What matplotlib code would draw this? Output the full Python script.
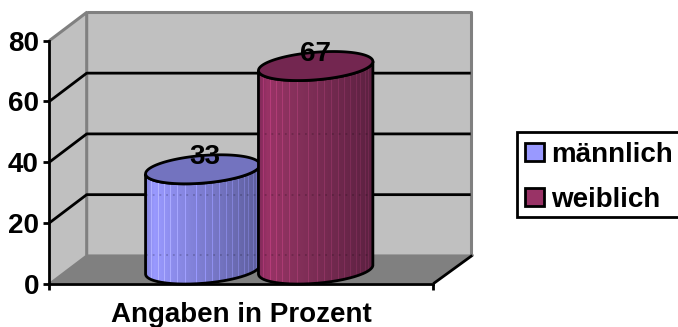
import numpy as np
import matplotlib
matplotlib.use('Agg')
import matplotlib.pyplot as plt
from matplotlib.patches import Patch, PathPatch, Polygon, Rectangle
from matplotlib.path import Path
from matplotlib.colors import to_rgb

plt.rcParams['font.family'] = ['Liberation Sans', 'DejaVu Sans']
plt.rcParams['font.weight'] = 'bold'

series = ['männlich', 'weiblich']
values = [33, 67]
yticks = [0, 20, 40, 60, 80]
xlabel = 'Angaben in Prozent'

W, H = 678, 327
X0, X1 = 49.3, 433.3     # front axis, pixels
Y0, Y80 = 283.7, 40.7
px_x = X1 - X0
px_y = (Y0 - Y80) / 80.0
DX, DY = 37.4, 28.3      # depth of the box, pixels
dx = DX / px_x
dy = DY / px_y

# cylinder placement on the x axis, fraction of the axis
centers = [0.351, 0.645]
half_w = 0.149
tilt = 4.5 / px_y
rim = 13.8 / px_y
LW = 2.0

stops = [
    [(0.0, '#8585e0'), (0.07, '#9999ff'), (0.25, '#8c8ceb'), (1.0, '#5d5d9a')],
    [(0.0, '#80295a'), (0.08, '#993366'), (0.35, '#84305a'), (1.0, '#5c2141')],
]
top_colors = ['#7373bf', '#732650']
base_colors = ['#9999ff', '#993366']
streaks = [0.05, 0.11, 0.16, 0.22, 0.28, 0.35, 0.45, 0.52, 0.58, 0.64, 0.70,
           0.76, 0.81, 0.86, 0.90, 0.94, 0.97]

fig = plt.figure(figsize=(W / 100, H / 100), dpi=100)
ax = fig.add_axes([X0 / W, 1 - Y0 / H, px_x / W, (Y0 - Y80) / H])
ax.patch.set_visible(False)


def wall(pts, fc, z=1):
    ax.add_patch(Polygon(pts, closed=True, fc=fc, ec='none', zorder=z, clip_on=False))


def edge(xs, ys, color='#808080', lw=1.8, z=1.5, **kw):
    ax.plot(xs, ys, color=color, lw=lw, zorder=z, clip_on=False,
            solid_capstyle='butt', **kw)


# box: floor, side wall, back wall
wall([(0, 0), (dx, dy), (1 + dx + 0.008, dy), (1, 0)], '#808080')
wall([(0, 0), (dx, dy), (dx, 80 + dy), (0, 80)], '#c0c0c0')
wall([(dx, dy), (1 + dx, dy), (1 + dx, 80 + dy), (dx, 80 + dy)], '#c0c0c0')

edge([0, dx, dx], [80, 80 + dy, dy], lw=2.2)
edge([dx, 1 + dx, 1 + dx], [80 + dy, 80 + dy, dy], lw=2.2)
edge([0, dx, 1 + dx + 0.008], [0, dy, dy], lw=1.4)

# gridlines run along the side wall and across the back
for v in yticks[1:-1]:
    edge([0, dx, 1 + dx], [v, v + dy, v + dy], color='black', lw=LW, z=1.6)
edge([1, 1 + dx + 0.004], [0, dy], color='black', lw=LW, z=1.6)


def rim_curve(cx, cy, t):
    return cx + half_w * np.cos(t), cy + tilt * np.cos(t) + rim * np.sin(t)


def cylinder(i, z):
    cx = centers[i] + dx / 2
    base = dy / 2
    top = base + values[i]

    # outline of the side: lower arc of the top rim, back along the lower arc of the base
    t = np.linspace(np.pi, 2 * np.pi, 80)
    xa, ya = rim_curve(cx, top, t)
    xb, yb = rim_curve(cx, base, t[::-1])
    body = np.column_stack([np.r_[xa, xb], np.r_[ya, yb]])
    side = PathPatch(Path(np.r_[body, body[:1]]), fc='none', ec='none', zorder=z,
                     clip_on=False, transform=ax.transData)
    ax.add_patch(side)

    # shaded side of the cylinder, one colour per pixel column
    n = int(2 * half_w * px_x)
    fr = np.linspace(0, 1, n)
    pos, cols = zip(*stops[i])
    rgb = np.array([to_rgb(c) for c in cols])
    img = np.stack([np.interp(fr, pos, rgb[:, k]) for k in range(3)], axis=1)
    for s in streaks:
        j = int(s * (n - 1))
        img[j] = np.minimum(img[j] * 1.2, 1)
    img = img[np.newaxis, :, :]
    im = ax.imshow(img, extent=[cx - half_w, cx + half_w, base - rim * 1.2, top + rim * 1.2],
                   aspect='auto', interpolation='nearest', zorder=z, clip_on=True)
    im.set_clip_path(side)

    # gridlines faintly printed through the side
    for v in yticks[:-1]:
        level = v + dy
        if base + rim * 0.4 < level < top - rim:
            ln, = ax.plot([cx - half_w, cx + half_w], [level, level], color='black', lw=1.1,
                          alpha=0.22, ls=(0, (1.2, 3.2)), zorder=z + 0.01, clip_on=True)
            ln.set_clip_path(side)

    outline = PathPatch(Path(np.r_[body, body[:1]]), fc='none', ec='black', lw=LW,
                        zorder=z + 0.02, clip_on=False, joinstyle='round')
    ax.add_patch(outline)

    t = np.linspace(0, 2 * np.pi, 160)
    xa, ya = rim_curve(cx, top, t)
    ax.add_patch(Polygon(np.column_stack([xa, ya]), closed=True, fc=top_colors[i], ec='black',
                         lw=LW, zorder=z + 0.03, clip_on=False))
    ax.text(cx + (0.005 if i == 0 else 0), top + 12.5 / px_y, str(values[i]), ha='center',
            va='center', fontsize=20, fontweight='bold', zorder=6, clip_on=False)


cylinder(0, 3)
cylinder(1, 4)

ax.set_xlim(0, 1)
ax.set_ylim(0, 80)
for side_name in ['top', 'right']:
    ax.spines[side_name].set_visible(False)
for side_name in ['left', 'bottom']:
    ax.spines[side_name].set_linewidth(LW)
    ax.spines[side_name].set_zorder(5)
ax.set_yticks(yticks)
ax.set_xticks([0, 1], ['', ''])
ax.tick_params(axis='both', length=4.5, width=LW, labelsize=20, pad=3)
ax.set_xlabel(xlabel, fontsize=20, fontweight='bold', labelpad=6)

# legend box runs off the right edge of the figure
fig.add_artist(Rectangle((516.5 / W, 1 - 216.5 / H), 180 / W, 84.5 / H, fc='white', ec='black',
                         lw=LW, transform=fig.transFigure))
handles = [Patch(fc=c, ec='black', lw=LW) for c in base_colors]
leg = fig.legend(handles, series, loc='upper left', bbox_to_anchor=(514.5 / W, 1 - 132 / H),
                 fontsize=20, frameon=False, handlelength=0.7, handleheight=0.62,
                 handletextpad=0.27, labelspacing=0.68, borderpad=0.36, borderaxespad=0)

fig.savefig('out.png', dpi=100)
